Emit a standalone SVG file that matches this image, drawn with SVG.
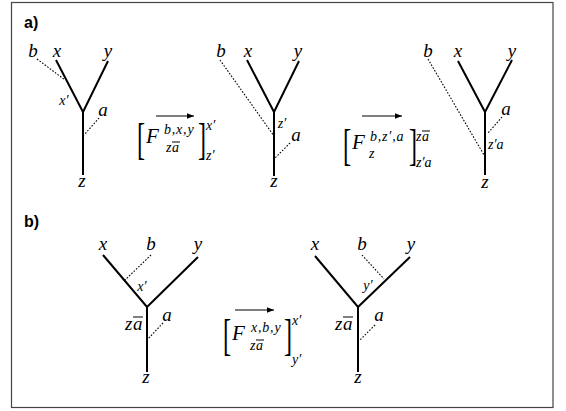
<svg xmlns="http://www.w3.org/2000/svg" width="566" height="411" viewBox="0 0 566 411">
<defs>
<marker id="ah" viewBox="0 0 10 8" refX="10" refY="4" markerWidth="7" markerHeight="5.6" markerUnits="userSpaceOnUse" orient="auto">
<path d="M0,0 L10,4 L0,8 Z" fill="#000"/>
</marker>
</defs>
<style>
.frame{fill:#fff;stroke:#444;stroke-width:1.2}
.e{stroke:#000;stroke-width:2;fill:none;stroke-linecap:butt}
.d{stroke:#000;stroke-width:1.1;stroke-dasharray:1.6,1.6;fill:none}
.bar{stroke:#000;stroke-width:1}
.arr{stroke:#000;stroke-width:1.2;fill:none;marker-end:url(#ah)}
.m{font-family:"Liberation Serif",serif;font-style:italic;font-size:19px;fill:#000}
.s{font-family:"Liberation Serif",serif;font-style:italic;font-size:14px;fill:#000}
.sp{letter-spacing:0.8px}
.F{font-family:"Liberation Serif",serif;font-style:italic;font-size:21px;fill:#000}
.br{font-family:"Liberation Serif",serif;font-size:44px;fill:#000}
.c{text-anchor:middle}
.lab{font-family:"Liberation Sans",Arial,sans-serif;font-weight:bold;font-size:16px;fill:#000}
</style>
<rect class="frame" x="11.5" y="2.5" width="541.5" height="405"/>
<text class="lab" x="24" y="28">a)</text>
<text class="lab" x="24" y="227">b)</text>

<g id="tree1">
<path class="e" d="M56,60 L83,112 L108,61 M83,112 L83,175"/>
<path class="d" d="M37,59 L65,80 M99,118 L84,135"/>
<text class="m c" x="33" y="57">b</text>
<text class="m c" x="57" y="57">x</text>
<text class="m c" x="108" y="57">y</text>
<text class="s c" x="64" y="105">x′</text>
<text class="m c" x="103" y="116">a</text>
<text class="m c" x="82" y="187">z</text>
</g>

<g id="tree2">
<path class="e" d="M247,60 L274,112 L299,61 M274,112 L274,176"/>
<path class="d" d="M220,60 L274,136 M290,143 L275,158"/>
<text class="m c" x="221" y="57">b</text>
<text class="m c" x="248" y="57">x</text>
<text class="m c" x="298" y="57">y</text>
<text class="s c" x="282" y="128">z′</text>
<text class="m c" x="296" y="141">a</text>
<text class="m c" x="274" y="187">z</text>
</g>

<g id="tree3">
<path class="e" d="M458,61 L485,112 L512,60 M485,112 L485,175"/>
<path class="d" d="M428,59 L484,155 M502,117 L488,133"/>
<text class="m c" x="428" y="57">b</text>
<text class="m c" x="458" y="57">x</text>
<text class="m c" x="512" y="57">y</text>
<text class="m c" x="506" y="115">a</text>
<text class="s" x="488" y="149">z′a</text>
<text class="m c" x="485" y="188">z</text>
</g>

<g id="formula1">
<text class="br" x="137" y="154" transform="translate(137,0) scale(0.55,1) translate(-137,0)">[</text>
<text class="F" x="146" y="143">F</text>
<text class="s sp" x="164" y="134">b,x,y</text>
<text class="s" x="166" y="152">z</text>
<text class="s" x="172" y="152">a</text>
<line class="bar" x1="172" y1="142" x2="180" y2="142"/>
<text class="br" x="198" y="154" transform="translate(198,0) scale(0.55,1) translate(-198,0)">]</text>
<text class="s" x="206" y="130">x′</text>
<text class="s" x="206" y="160">z′</text>
</g>

<g id="formula2">
<text class="br" x="343" y="160" transform="translate(343,0) scale(0.55,1) translate(-343,0)">[</text>
<text class="F" x="352" y="149">F</text>
<text class="s sp" x="370" y="141">b,z′,a</text>
<text class="s" x="369" y="158">z</text>
<text class="br" x="409" y="160" transform="translate(409,0) scale(0.55,1) translate(-409,0)">]</text>
<text class="s" x="416" y="141">z</text>
<text class="s" x="422" y="141">a</text>
<line class="bar" x1="422" y1="131" x2="430" y2="131"/>
<text class="s" x="416" y="167">z′a</text>
</g>

<g id="tree4">
<path class="e" d="M103,255 L147,307 L198,257 M147,307 L147,372"/>
<path class="d" d="M151,255 L125,280 M163,323 L147,340"/>
<text class="m c" x="103" y="250">x</text>
<text class="m c" x="151" y="250">b</text>
<text class="m c" x="198" y="250">y</text>
<text class="s c" x="142" y="291">x′</text>
<text class="m" x="125" y="330">z</text>
<text class="m" x="133" y="330">a</text>
<line class="bar" x1="133" y1="317" x2="143" y2="317"/>
<text class="m c" x="167" y="321">a</text>
<text class="m c" x="146" y="383">z</text>
</g>

<g id="tree5">
<path class="e" d="M315,256 L358,307 L410,257 M358,307 L358,372"/>
<path class="d" d="M362,255 L384,279 M375,325 L360,340"/>
<text class="m c" x="315" y="250">x</text>
<text class="m c" x="362" y="250">b</text>
<text class="m c" x="411" y="250">y</text>
<text class="s c" x="368" y="290">y′</text>
<text class="m" x="335" y="330">z</text>
<text class="m" x="343" y="330">a</text>
<line class="bar" x1="343" y1="317" x2="353" y2="317"/>
<text class="m c" x="379" y="321">a</text>
<text class="m c" x="358" y="383">z</text>
</g>

<g id="formula3">
<text class="br" x="223" y="350" transform="translate(223,0) scale(0.55,1) translate(-223,0)">[</text>
<text class="F" x="232" y="340">F</text>
<text class="s sp" x="251" y="332">x,b,y</text>
<text class="s" x="250" y="350">z</text>
<text class="s" x="256" y="350">a</text>
<line class="bar" x1="256" y1="340" x2="264" y2="340"/>
<text class="br" x="284" y="350" transform="translate(284,0) scale(0.55,1) translate(-284,0)">]</text>
<text class="s" x="292" y="325">x′</text>
<text class="s" x="292" y="364">y′</text>
</g>

<g id="connectors">
<line class="arr" x1="156" y1="116" x2="194" y2="116"/>
<line class="arr" x1="362" y1="116" x2="402" y2="116"/>
<line class="arr" x1="235" y1="310" x2="274" y2="310"/>
</g>
</svg>
